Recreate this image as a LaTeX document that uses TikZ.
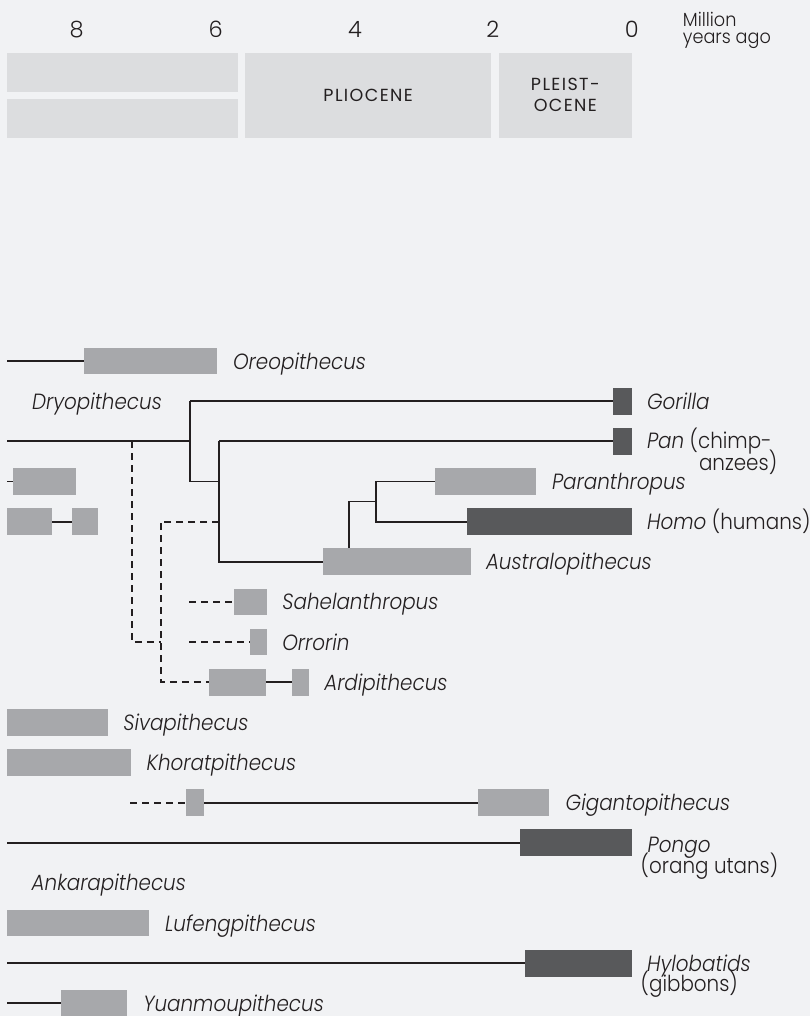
\documentclass[tikz,border=0pt]{standalone}
\usepackage{fontspec}
\setmainfont{Poppins}[UprightFont=* Light, ItalicFont=* Light Italic]
\newfontfamily\capsfont{Poppins}[LetterSpace=8]
\definecolor{bg}{HTML}{F1F2F4}
\definecolor{epoch}{HTML}{DCDDDF}
\definecolor{lgray}{HTML}{A7A8AB}
\definecolor{dgray}{HTML}{58595B}
\definecolor{ink}{HTML}{231F20}
\begin{document}
\begin{tikzpicture}[x=1pt,y=-1pt,
  ln/.style={draw=ink, line width=1.9pt},
  dsh/.style={draw=ink, line width=1.9pt, dash pattern=on 7pt off 5pt},
  lbox/.style={fill=lgray, draw=none, inner sep=0pt, outer sep=0pt, minimum height=26.7pt, anchor=west},
  dbox/.style={fill=dgray, draw=none, inner sep=0pt, outer sep=0pt, minimum height=26.7pt, anchor=west},
  ebox/.style={fill=epoch, draw=none, inner sep=0pt, outer sep=0pt, anchor=north west, text=ink,
    font=\capsfont\fontsize{17.5}{21}\selectfont, align=center},
  lab/.style={anchor=base west, inner sep=0pt, outer sep=0pt, text=ink,
    font=\fontsize{22}{22}\selectfont\addfontfeature{FakeStretch=0.905}},
  axl/.style={anchor=base, inner sep=0pt, text=ink, font=\fontsize{22.5}{24}\selectfont},
  unitl/.style={anchor=base west, inner sep=0pt, text=ink,
    font=\fontsize{19}{16}\selectfont\addfontfeature{FakeStretch=0.93}}]
\fill[bg] (0,0) rectangle (810,1016);
\useasboundingbox (0,0) rectangle (810,1016);

% axis
\node[axl] (t8) at (76.7,37.3) {8};
\node[axl] (t6) at (215.7,37.3) {6};
\node[axl] (t4) at (355,37.3) {4};
\node[axl] (t2) at (492.7,37.3) {2};
\node[axl] (t0) at (631.7,37.3) {0};
\node[unitl] (unitA) at (682.7,27) {Million};
\node[unitl] (unitB) at (682.7,43.5) {years ago};

% epochs
\node[ebox, minimum width=231pt, minimum height=39pt] (mioA) at (6.7,52.7) {};
\node[ebox, minimum width=231pt, minimum height=38.7pt] (mioB) at (6.7,99) {};
\node[ebox, minimum width=245.7pt, minimum height=85pt] (plio) at (245.3,52.7) {PLIOCENE};
\node[ebox, minimum width=132.7pt, minimum height=85pt] (pleist) at (499,52.7) {PLEIST-\\OCENE};

% boxes
\node[lbox, minimum width=133pt] (oreo) at (84,361) {};
\node[dbox, minimum width=18.7pt] (gorilla) at (613,401.15) {};
\node[dbox, minimum width=18.7pt] (pan) at (613,441.3) {};
\node[lbox, minimum width=63pt] (lA) at (12.7,481.45) {};
\node[lbox, minimum width=101pt] (paran) at (435,481.45) {};
\node[lbox, minimum width=45.3pt] (lB1) at (7,521.6) {};
\node[lbox, minimum width=26pt] (lB2) at (71.7,521.6) {};
\node[dbox, minimum width=165pt] (homo) at (466.7,521.6) {};
\node[lbox, minimum width=148pt] (austr) at (322.7,561.75) {};
\node[lbox, minimum width=32.7pt] (sahel) at (234,601.9) {};
\node[lbox, minimum width=16.7pt] (orror) at (250,642.05) {};
\node[lbox, minimum width=56.4pt] (ardiA) at (209.3,682.2) {};
\node[lbox, minimum width=17pt] (ardiB) at (292.3,682.2) {};
\node[lbox, minimum width=100.7pt] (siva) at (7,722.35) {};
\node[lbox, minimum width=124pt] (khor) at (7,762.5) {};
\node[lbox, minimum width=18pt] (gigA) at (186,802.65) {};
\node[lbox, minimum width=71pt] (gigB) at (478.3,802.65) {};
\node[dbox, minimum width=111.7pt] (pongo) at (520,842.8) {};
\node[lbox, minimum width=142pt] (lufeng) at (7,923.1) {};
\node[dbox, minimum width=106.7pt] (hylo) at (525,963.25) {};
\node[lbox, minimum width=65.7pt] (yuan) at (61,1003.4) {};

% coordinates
\coordinate (oreoL) at (7,361);
\coordinate (j1) at (190,401.15);
\coordinate (mainL) at (7,441.3);
\coordinate (j0) at (190,441.3);
\coordinate (j3) at (190,481.45);
\coordinate (k3) at (219,481.45);
\coordinate (k2) at (219,441.3);
\coordinate (k4) at (219,521.6);
\coordinate (k5) at (219,561.75);
\coordinate (m3) at (376,481.45);
\coordinate (m4) at (376,521.6);
\coordinate (mm) at (376,501.5);
\coordinate (n) at (349.3,501.5);
\coordinate (d2) at (131.7,441.3);
\coordinate (d7) at (131.7,642.05);
\coordinate (e7) at (160.7,642.05);
\coordinate (e4) at (160.7,521.6);
\coordinate (e8) at (160.7,682.2);
\coordinate (s6) at (189.3,601.9);
\coordinate (s7) at (189.3,642.05);
\coordinate (lAL) at (7,481.45);
\coordinate (g11) at (130,802.65);
\coordinate (pL) at (7,842.8);
\coordinate (hL) at (7,963.25);
\coordinate (yL) at (7,1003.4);

% solid connectors
\draw[ln] (oreoL) -- (oreo.west);
\draw[ln] (j1) -- (gorilla.west);
\draw[ln] (mainL) -- (j0);
\draw[ln] (j1) -- (j3) -- (k3);
\draw[ln] (k2) -- (pan.west);
\draw[ln] (k2) -- (k5) -- (austr.west);
\draw[ln] (m3) -- (paran.west);
\draw[ln] (m3) -- (m4) -- (homo.west);
\draw[ln] (mm) -- (n) -- (n |- austr.north);
\draw[ln] (lAL) -- (lA.west);
\draw[ln] (lB1.east) -- (lB2.west);
\draw[ln] (ardiA.east) -- (ardiB.west);
\draw[ln] (gigA.east) -- (gigB.west);
\draw[ln] (pL) -- (pongo.west);
\draw[ln] (hL) -- (hylo.west);
\draw[ln] (yL) -- (yuan.west);

% dashed connectors
\draw[dsh] (d2) -- (d7) -- (e7);
\draw[dsh] (k4) -- (e4) -- (e8) -- (ardiA.west);
\draw[dsh] (s6) -- (sahel.west);
\draw[dsh] (s7) -- (orror.west);
\draw[dsh] (g11) -- (gigA.west);

% labels
\node[lab] (Loreo) at (233,369) {\itshape Oreopithecus};
\node[lab] (Ldryo) at (32,409.15) {\itshape Dryopithecus};
\node[lab] (Lgor) at (647,409.15) {\itshape Gorilla};
\node[lab] (LpanA) at (647,448.3) {\textit{Pan} (chimp-};
\node[lab] (LpanB) at (699,470) {anzees)};
\node[lab] (Lpar) at (552,489.45) {\itshape Paranthropus};
\node[lab] (Lhomo) at (647,529.6) {\textit{Homo} (humans)};
\node[lab] (Laus) at (486,569.75) {\itshape Australopithecus};
\node[lab] (Lsah) at (282.3,609.9) {\itshape Sahelanthropus};
\node[lab] (Lorr) at (282.3,650.05) {\itshape Orrorin};
\node[lab] (Lard) at (324.3,690.2) {\itshape Ardipithecus};
\node[lab] (Lsiv) at (123.3,730.35) {\itshape Sivapithecus};
\node[lab] (Lkho) at (146.7,770.5) {\itshape Khoratpithecus};
\node[lab] (Lgig) at (565.7,810.65) {\itshape Gigantopithecus};
\node[lab] (LpoA) at (647.7,852) {\itshape Pongo};
\node[lab] (LpoB) at (640.7,873) {(orang utans)};
\node[lab] (Lank) at (31.7,890.95) {\itshape Ankarapithecus};
\node[lab] (Llu) at (165,931.1) {\itshape Lufengpithecus};
\node[lab] (LhyA) at (647,971.7) {\itshape Hylobatids};
\node[lab] (LhyB) at (640.7,991.5) {(gibbons)};
\node[lab] (Lyu) at (143.3,1011) {\itshape Yuanmoupithecus};
\end{tikzpicture}
\end{document}
